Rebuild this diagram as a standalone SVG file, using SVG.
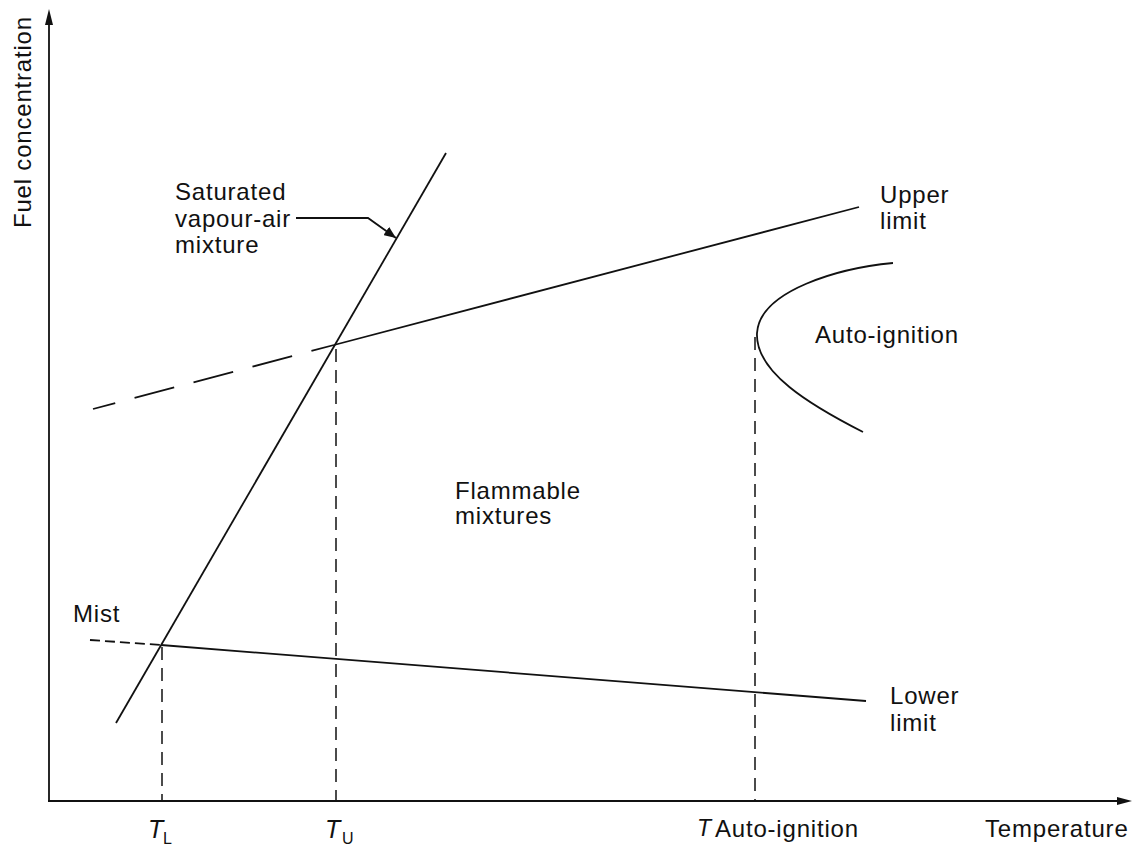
<svg xmlns="http://www.w3.org/2000/svg" width="1133" height="850" viewBox="0 0 1133 850">
<defs>
<style>
.t{font-family:"Liberation Sans",Arial,sans-serif;font-size:24px;letter-spacing:0.8px;fill:#111}
.ti{font-family:"Liberation Sans",Arial,sans-serif;font-style:italic;fill:#111}
.sub{font-family:"Liberation Sans",Arial,sans-serif;font-size:16px;fill:#111}
.ln{fill:none;stroke:#111;stroke-width:1.8}
.dv{fill:none;stroke:#111;stroke-width:1.5;stroke-dasharray:13 8}
</style>
<marker id="ah" viewBox="0 0 12 10" refX="12" refY="5" markerWidth="12" markerHeight="10" markerUnits="userSpaceOnUse" orient="auto">
<path d="M0,0 L12,5 L0,10 Z" fill="#111"/>
</marker>
</defs>
<rect width="1133" height="850" fill="#fff"/>
<g id="axes">
<line class="ln" x1="49" y1="801" x2="49" y2="22"/>
<path d="M49,9 L45,25 L53,25 Z" fill="#111"/>
<line class="ln" x1="48" y1="801" x2="1120" y2="801"/>
<path d="M1132,801 L1117,797 L1117,805 Z" fill="#111"/>
<text class="t" transform="translate(31,228) rotate(-90)">Fuel concentration</text>
<text class="t" x="985" y="837">Temperature</text>
</g>
<g id="connectors">
<line id="saturated-line" class="ln" x1="116" y1="723" x2="446" y2="153"/>
<line id="upper-limit" class="ln" x1="334" y1="345" x2="859" y2="207"/>
<line id="upper-limit-dashed" class="ln" x1="93" y1="409" x2="334" y2="345" stroke-dasharray="41 20" stroke-dashoffset="18"/>
<line id="lower-limit" class="ln" x1="161" y1="645" x2="866" y2="701"/>
<line id="mist-dashed" class="ln" x1="90" y1="640" x2="161" y2="645" stroke-dasharray="10 5"/>
<path id="auto-ignition-curve" class="ln" d="M893,263 C840,268 760,290 757,333 C755,372 810,405 863,432"/>
<line class="dv" x1="162" y1="647" x2="162" y2="800"/>
<line class="dv" x1="336" y1="349" x2="336" y2="800"/>
<line class="dv" x1="755" y1="337" x2="755" y2="800"/>
<polyline class="ln" points="296,218 368,218 396,238" stroke-width="1.4" marker-end="url(#ah)"/>
</g>
<g id="label-saturated">
<text class="t" x="175" y="200">Saturated</text>
<text class="t" x="175" y="226.5">vapour-air</text>
<text class="t" x="175" y="253">mixture</text>
</g>
<g id="label-upper">
<text class="t" x="880" y="203">Upper</text>
<text class="t" x="880" y="229">limit</text>
</g>
<g id="label-autoignition">
<text class="t" x="815" y="343">Auto-ignition</text>
</g>
<g id="label-flammable">
<text class="t" x="455" y="499">Flammable</text>
<text class="t" x="455" y="524">mixtures</text>
</g>
<g id="label-mist">
<text class="t" x="73" y="622">Mist</text>
</g>
<g id="label-lower">
<text class="t" x="890" y="704">Lower</text>
<text class="t" x="890" y="731">limit</text>
</g>
<g id="label-TL">
<text class="ti" x="148" y="838" font-size="25">T</text>
<text class="sub" x="163" y="844">L</text>
</g>
<g id="label-TU">
<text class="ti" x="325" y="838" font-size="25">T</text>
<text class="sub" x="342" y="844">U</text>
</g>
<g id="label-TAuto">
<text class="ti" x="697" y="836" font-size="23">T</text>
<text class="t" x="715" y="837">Auto-ignition</text>
</g>
</svg>
